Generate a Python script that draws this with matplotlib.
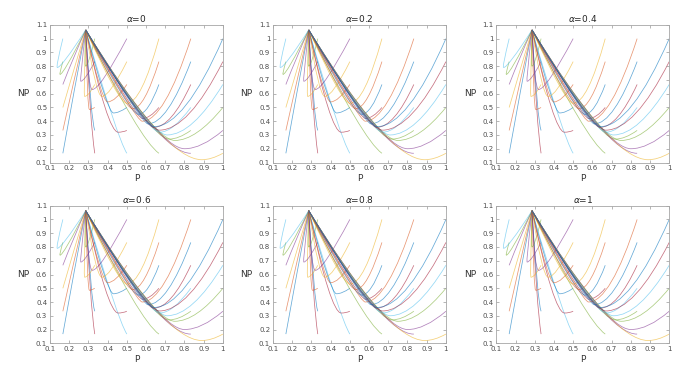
import matplotlib
matplotlib.use('Agg')
import matplotlib.pyplot as plt
from matplotlib.path import Path
from matplotlib.patches import PathPatch

# panel titles
alphas = ['0', '0.2', '0.4', '0.6', '0.8', '1']

# common start point of every curve
apex = (0.286, 1.063)

# end points (P, NP) of the curves, P outer loop, NP inner loop
p_end = [0.167, 0.333, 0.5, 0.667, 0.833, 1.0]
np_end = [0.167, 0.333, 0.5, 0.667, 0.833, 1.0]

# bezier vertices between apex and end point
# (3 items -> one quadratic, 1 item -> control point only)
ctrl = [
    # P = 0.167
    [(0.225, 0.62)],
    [(0.225, 0.70)],
    [(0.225, 0.78)],
    [(0.22, 0.86)],
    [(0.17, 0.74), (0.152, 0.74), (0.148, 0.74)],
    [(0.16, 0.79), (0.138, 0.79), (0.13, 0.79)],
    # P = 0.333
    [(0.31, 0.38)],
    [(0.315, 0.40)],
    [(0.295, 0.485), (0.305, 0.485), (0.315, 0.485)],
    [(0.275, 0.58), (0.28, 0.58), (0.30, 0.58)],
    [(0.255, 0.69), (0.26, 0.69), (0.28, 0.69)],
    [(0.28, 0.80), (0.285, 0.80), (0.30, 0.80)],
    # P = 0.5
    [(0.45, 0.28)],
    [(0.40, 0.32), (0.455, 0.32), (0.48, 0.32)],
    [(0.40, 0.46), (0.43, 0.46), (0.46, 0.46)],
    [(0.37, 0.54), (0.40, 0.54), (0.44, 0.54)],
    [(0.34, 0.58), (0.37, 0.58), (0.41, 0.58)],
    [(0.30, 0.63), (0.32, 0.63), (0.36, 0.63)],
    # P = 0.667
    [(0.57, 0.26)],
    [(0.60, 0.34)],
    [(0.55, 0.42), (0.58, 0.42), (0.62, 0.42)],
    [(0.52, 0.45), (0.56, 0.45), (0.61, 0.45)],
    [(0.49, 0.49), (0.53, 0.49), (0.59, 0.49)],
    [(0.46, 0.53), (0.50, 0.53), (0.575, 0.53)],
    # P = 0.833
    [(0.68, 0.16)],
    [(0.63, 0.27), (0.72, 0.27), (0.77, 0.27)],
    [(0.61, 0.32), (0.67, 0.32), (0.74, 0.32)],
    [(0.59, 0.355), (0.64, 0.355), (0.73, 0.355)],
    [(0.58, 0.38), (0.61, 0.38), (0.71, 0.38)],
    [(0.55, 0.40), (0.58, 0.40), (0.694, 0.40)],
    # P = 1
    [(0.70, 0.12), (0.89, 0.12), (0.94, 0.12)],
    [(0.67, 0.20), (0.80, 0.20), (0.89, 0.20)],
    [(0.64, 0.26), (0.75, 0.26), (0.86, 0.26)],
    [(0.62, 0.30), (0.71, 0.30), (0.84, 0.30)],
    [(0.60, 0.335), (0.67, 0.335), (0.82, 0.335)],
    [(0.59, 0.36), (0.64, 0.36), (0.80, 0.36)],
]

# matlab default colour order
colors = ['#0072BD', '#D95319', '#EDB120', '#7E2F8E',
          '#77AC30', '#4DBEEE', '#A2142F']

ticks = [0.1, 0.2, 0.3, 0.4, 0.5, 0.6, 0.7, 0.8, 0.9, 1]
yticks = ticks + [1.1]

fig = plt.figure(figsize=(7, 3.66), dpi=100)

lefts = [0.0714, 0.39, 0.709]
bottoms = [0.556, 0.062]

for n, a in enumerate(alphas):
    row = n // 3
    col = n % 3
    ax = fig.add_axes([lefts[col], bottoms[row], 0.247, 0.376])

    c = 0
    for px in p_end:
        for py in np_end:
            mid = ctrl[c]
            verts = [apex] + mid + [(px, py)]
            codes = [Path.MOVETO] + [Path.CURVE3] * (len(verts) - 1)
            patch = PathPatch(Path(verts, codes), facecolor='none',
                              edgecolor=colors[c % 7], lw=0.55, alpha=0.6)
            ax.add_patch(patch)
            c = c + 1

    ax.set_xlim(0.1, 1)
    ax.set_ylim(0.1, 1.1)
    ax.set_xticks(ticks)
    ax.set_xticklabels([('%g' % t) for t in ticks])
    ax.set_yticks(yticks)
    ax.set_yticklabels([('%g' % t) for t in yticks])
    ax.tick_params(direction='in', length=2, width=0.5, labelsize=5,
                   colors='0.6', labelcolor='0.3', top=True, right=True, pad=2)
    for s in ax.spines.values():
        s.set_color('0.65')
        s.set_linewidth(0.6)
    ax.set_title(r'$\alpha$=' + a, fontsize=6.5, color='0.15', pad=2)
    ax.set_xlabel('P', fontsize=6.5, color='0.2', labelpad=2)
    ax.set_ylabel('NP', fontsize=6.5, color='0.2', rotation=0, labelpad=9,
                  va='center')

plt.savefig('out.png', dpi=100)
